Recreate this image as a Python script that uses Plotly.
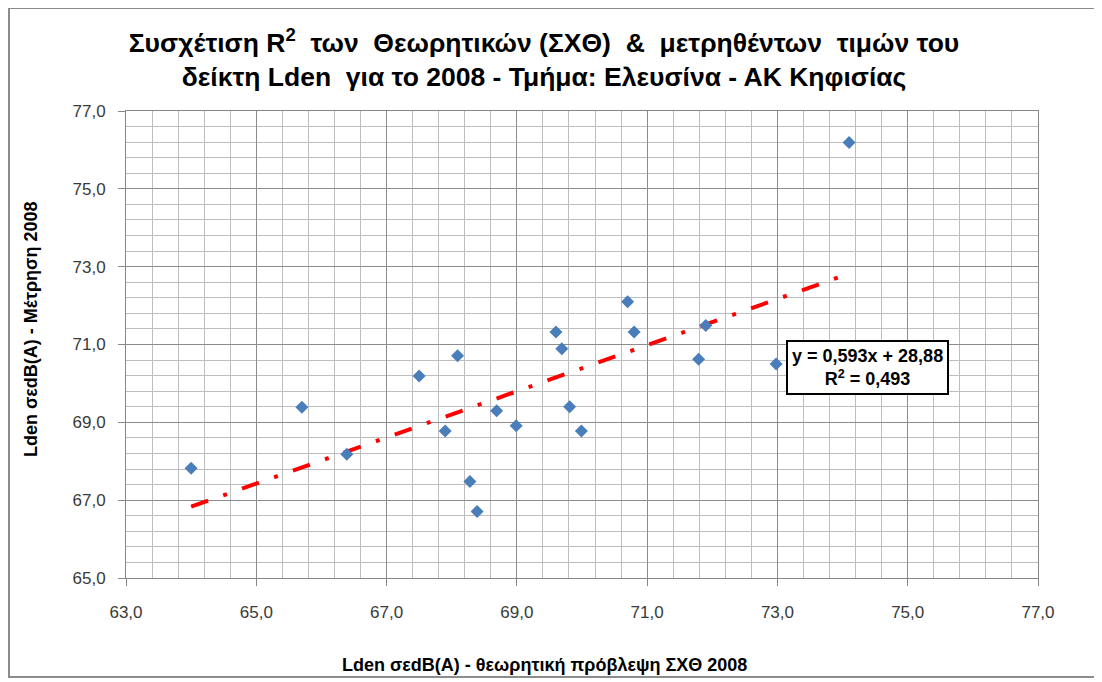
import plotly.graph_objects as go

# ---- data ----
x_theory = [64.00, 65.70, 66.39, 67.50, 68.09, 67.90, 68.28, 68.39, 68.69, 68.99,
            70.70, 69.60, 69.69, 70.80, 69.81, 69.99, 71.79, 71.90, 72.98, 74.10]
y_measured = [67.82, 69.39, 68.18, 70.19, 70.71, 68.78, 67.48, 66.71, 69.30, 68.91,
              72.10, 71.32, 70.89, 71.32, 69.40, 68.78, 70.62, 71.49, 70.50, 76.19]

trend_slope = 0.593
trend_intercept = 28.88
r_squared = 0.493

x_ticks = [63, 65, 67, 69, 71, 73, 75, 77]
y_ticks = [65, 67, 69, 71, 73, 75, 77]

title_text = ("Συσχέτιση R<sup>2</sup>\u00a0 των\u00a0 Θεωρητικών (ΣΧΘ)\u00a0 &\u00a0 μετρηθέντων\u00a0 τιμών του"
              "<br>δείκτη Lden\u00a0 για το 2008 - Τμήμα: Ελευσίνα - ΑΚ Κηφισίας")
x_title = "Lden σεdB(A) - θεωρητική πρόβλεψη ΣΧΘ 2008"
y_title = "Lden σεdB(A) - Μέτρηση 2008"
eq_text = "y = 0,593x + 28,88<br>R<sup>2</sup> = 0,493"

# trendline endpoints from the equation shown on the chart
tx = [min(x_theory), max(x_theory)]
ty = [trend_slope * v + trend_intercept for v in tx]

FONT = "Liberation Sans"
W, H = 1102, 682
OFF = 8  # page offset of the figure inside the browser window
# target plot area in window pixels: x 126..1038, y 111..578
ML, MT = 126 - OFF, 111 - OFF
PW, PH = 912, 467
MR, MB = W - ML - PW, H - MT - PH

def px_x(px):  # window pixel -> paper
    return (px - OFF - ML) / PW

def px_y(py):
    return (MT + PH - (py - OFF)) / PH

fig = go.Figure()
fig.add_trace(go.Scatter(
    x=tx, y=ty, mode="lines",
    line=dict(color="#FF0000", width=4, dash="18px,16px,4px,16px"),
    showlegend=False, hoverinfo="skip"))
fig.add_trace(go.Scatter(
    x=x_theory, y=y_measured, mode="markers",
    marker=dict(symbol="diamond", size=10, color="#4A7EBB", line=dict(width=0)),
    showlegend=False))

axis_common = dict(
    showline=True, linecolor="#868686", linewidth=1, mirror=True,
    showgrid=True, gridcolor="#8C8C8C", gridwidth=1,
    zeroline=False, ticks="outside", ticklen=7, tickcolor="#868686",
    tickformat=".1f", tickfont=dict(family=FONT, size=17, color="#3a3a3a"),
    automargin=False,
)

fig.update_xaxes(range=[63, 77], tickvals=x_ticks,
                 minor=dict(dtick=0.4, tick0=63, showgrid=True, gridcolor="#BDBDBD", gridwidth=1),
                 ticklabelstandoff=12, **axis_common)
fig.update_yaxes(range=[65, 77], tickvals=y_ticks,
                 minor=dict(dtick=0.4, tick0=65, showgrid=True, gridcolor="#BDBDBD", gridwidth=1),
                 ticklabelstandoff=9, **axis_common)

annotations = [
    dict(text=x_title, xref="paper", yref="paper", x=px_x(544), y=px_y(665),
         showarrow=False, xanchor="center", yanchor="middle",
         font=dict(family=FONT, size=18, color="#000000", weight="bold")),
    dict(text=y_title, xref="paper", yref="paper", x=px_x(31), y=px_y(330),
         showarrow=False, xanchor="center", yanchor="middle", textangle=-90,
         font=dict(family=FONT, size=18, color="#000000", weight="bold")),
    dict(text=eq_text,
         xref="paper", yref="paper", x=px_x(867), y=px_y(368),
         showarrow=False, xanchor="center", yanchor="middle", align="center",
         bgcolor="#FFFFFF", bordercolor="#000000", borderwidth=2, borderpad=4,
         font=dict(family=FONT, size=18, color="#000000", weight="bold")),
]

fig.update_layout(
    width=W, height=H,
    margin=dict(l=ML, r=MR, t=MT, b=MB),
    paper_bgcolor="#FFFFFF", plot_bgcolor="#FFFFFF",
    separators=",.",
    title=dict(text=title_text, x=px_x(544), xref="paper", xanchor="center",
               y=1 - (52 - OFF) / H, yref="container", yanchor="middle",
               font=dict(family=FONT, size=26.5, color="#000000", weight="bold")),
    annotations=annotations,
    shapes=[dict(type="rect", xref="paper", yref="paper",
                 x0=px_x(9), x1=px_x(1110), y0=px_y(677), y1=px_y(8),
                 line=dict(color="#8C8C8C", width=2), fillcolor="rgba(0,0,0,0)",
                 layer="below")],
)

fig.write_html("out.html")
